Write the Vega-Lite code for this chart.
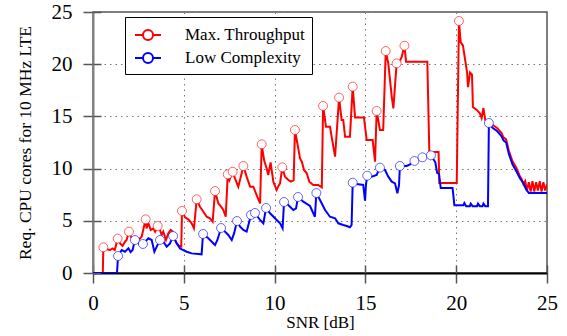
{
  "$schema": "https://vega.github.io/schema/vega-lite/v6.json",
  "width": 454,
  "height": 261,
  "autosize": {"type": "none"},
  "padding": {"left": 93, "top": 12, "right": 20, "bottom": 63},
  "background": "white",
  "config": {
    "view": {"stroke": "#555555", "strokeWidth": 1.5},
    "font": "Liberation Serif",
    "axis": {"labelFont": "Liberation Serif", "titleFont": "Liberation Serif"},
    "legend": {
      "orient": "none",
      "legendX": 32,
      "legendY": 5,
      "strokeColor": "black",
      "strokeWidth": 1,
      "fillColor": "white",
      "padding": 7,
      "labelFont": "Liberation Serif",
      "labelFontSize": 17,
      "labelColor": "black",
      "symbolType": "M-1.3,0L-0.5,0M0.5,0L1.3,0M0.5,0A0.5,0.5,0,1,1,-0.5,0A0.5,0.5,0,1,1,0.5,0",
      "symbolSize": 400,
      "symbolStrokeWidth": 2,
      "symbolOffset": 5,
      "labelOffset": 26,
      "rowPadding": 3
    }
  },
  "datasets": {
    "d": [
      {"series":"Max. Throughput","x":0,"y":0,"m":0},
      {"series":"Max. Throughput","x":0.54,"y":0,"m":0},
      {"series":"Max. Throughput","x":0.57,"y":2.46,"m":1},
      {"series":"Max. Throughput","x":0.75,"y":2.27,"m":0},
      {"series":"Max. Throughput","x":0.94,"y":2.2,"m":0},
      {"series":"Max. Throughput","x":1.08,"y":2.36,"m":0},
      {"series":"Max. Throughput","x":1.2,"y":2.2,"m":0},
      {"series":"Max. Throughput","x":1.36,"y":3.29,"m":1},
      {"series":"Max. Throughput","x":1.49,"y":2.84,"m":0},
      {"series":"Max. Throughput","x":1.63,"y":2.59,"m":0},
      {"series":"Max. Throughput","x":1.76,"y":3.0,"m":0},
      {"series":"Max. Throughput","x":1.85,"y":3.16,"m":0},
      {"series":"Max. Throughput","x":1.98,"y":3.96,"m":1},
      {"series":"Max. Throughput","x":2.13,"y":3.32,"m":0},
      {"series":"Max. Throughput","x":2.31,"y":3.48,"m":0},
      {"series":"Max. Throughput","x":2.5,"y":3.16,"m":0},
      {"series":"Max. Throughput","x":2.68,"y":3.48,"m":0},
      {"series":"Max. Throughput","x":2.9,"y":5.14,"m":1},
      {"series":"Max. Throughput","x":2.95,"y":4.28,"m":0},
      {"series":"Max. Throughput","x":3.05,"y":4.76,"m":0},
      {"series":"Max. Throughput","x":3.18,"y":4.12,"m":0},
      {"series":"Max. Throughput","x":3.32,"y":4.28,"m":0},
      {"series":"Max. Throughput","x":3.42,"y":3.96,"m":0},
      {"series":"Max. Throughput","x":3.56,"y":4.5,"m":1},
      {"series":"Max. Throughput","x":3.69,"y":4.12,"m":0},
      {"series":"Max. Throughput","x":3.78,"y":3.64,"m":0},
      {"series":"Max. Throughput","x":3.87,"y":3.96,"m":0},
      {"series":"Max. Throughput","x":4.02,"y":3.16,"m":0},
      {"series":"Max. Throughput","x":4.15,"y":3.8,"m":0},
      {"series":"Max. Throughput","x":4.28,"y":4.12,"m":0},
      {"series":"Max. Throughput","x":4.39,"y":3.96,"m":0},
      {"series":"Max. Throughput","x":4.52,"y":3.16,"m":0},
      {"series":"Max. Throughput","x":4.61,"y":2.84,"m":0},
      {"series":"Max. Throughput","x":4.75,"y":2.59,"m":0},
      {"series":"Max. Throughput","x":4.86,"y":2.52,"m":0},
      {"series":"Max. Throughput","x":4.9,"y":5.94,"m":1},
      {"series":"Max. Throughput","x":5.07,"y":5.33,"m":0},
      {"series":"Max. Throughput","x":5.25,"y":5.14,"m":0},
      {"series":"Max. Throughput","x":5.43,"y":4.76,"m":0},
      {"series":"Max. Throughput","x":5.56,"y":4.28,"m":0},
      {"series":"Max. Throughput","x":5.71,"y":7.06,"m":1},
      {"series":"Max. Throughput","x":5.89,"y":6.35,"m":0},
      {"series":"Max. Throughput","x":6.08,"y":5.87,"m":0},
      {"series":"Max. Throughput","x":6.26,"y":5.39,"m":0},
      {"series":"Max. Throughput","x":6.44,"y":5.24,"m":0},
      {"series":"Max. Throughput","x":6.59,"y":4.92,"m":0},
      {"series":"Max. Throughput","x":6.72,"y":7.85,"m":1},
      {"series":"Max. Throughput","x":6.9,"y":6.67,"m":0},
      {"series":"Max. Throughput","x":7.05,"y":6.35,"m":0},
      {"series":"Max. Throughput","x":7.18,"y":6.03,"m":0},
      {"series":"Max. Throughput","x":7.31,"y":5.39,"m":0},
      {"series":"Max. Throughput","x":7.42,"y":9.45,"m":1},
      {"series":"Max. Throughput","x":7.51,"y":8.9,"m":0},
      {"series":"Max. Throughput","x":7.69,"y":9.7,"m":1},
      {"series":"Max. Throughput","x":7.82,"y":9.07,"m":0},
      {"series":"Max. Throughput","x":8.0,"y":8.27,"m":0},
      {"series":"Max. Throughput","x":8.15,"y":9.3,"m":0},
      {"series":"Max. Throughput","x":8.28,"y":10.25,"m":1},
      {"series":"Max. Throughput","x":8.46,"y":9.23,"m":0},
      {"series":"Max. Throughput","x":8.65,"y":8.27,"m":0},
      {"series":"Max. Throughput","x":8.83,"y":8.27,"m":0},
      {"series":"Max. Throughput","x":9.01,"y":7.47,"m":0},
      {"series":"Max. Throughput","x":9.2,"y":6.67,"m":0},
      {"series":"Max. Throughput","x":9.29,"y":12.33,"m":1},
      {"series":"Max. Throughput","x":9.42,"y":10.82,"m":0},
      {"series":"Max. Throughput","x":9.56,"y":10.03,"m":0},
      {"series":"Max. Throughput","x":9.65,"y":9.39,"m":0},
      {"series":"Max. Throughput","x":9.78,"y":10.6,"m":0},
      {"series":"Max. Throughput","x":9.93,"y":8.75,"m":0},
      {"series":"Max. Throughput","x":10.11,"y":7.95,"m":0},
      {"series":"Max. Throughput","x":10.2,"y":8.3,"m":0},
      {"series":"Max. Throughput","x":10.3,"y":8.59,"m":0},
      {"series":"Max. Throughput","x":10.42,"y":10.12,"m":1},
      {"series":"Max. Throughput","x":10.57,"y":9.23,"m":0},
      {"series":"Max. Throughput","x":10.76,"y":8.91,"m":0},
      {"series":"Max. Throughput","x":10.9,"y":8.75,"m":0},
      {"series":"Max. Throughput","x":11.05,"y":8.9,"m":0},
      {"series":"Max. Throughput","x":11.12,"y":13.7,"m":1},
      {"series":"Max. Throughput","x":11.27,"y":12.26,"m":0},
      {"series":"Max. Throughput","x":11.4,"y":10.98,"m":0},
      {"series":"Max. Throughput","x":11.5,"y":10.66,"m":0},
      {"series":"Max. Throughput","x":11.62,"y":9.87,"m":0},
      {"series":"Max. Throughput","x":11.77,"y":9.55,"m":0},
      {"series":"Max. Throughput","x":11.91,"y":8.75,"m":0},
      {"series":"Max. Throughput","x":12.13,"y":8.43,"m":0},
      {"series":"Max. Throughput","x":12.4,"y":8.43,"m":0},
      {"series":"Max. Throughput","x":12.6,"y":8.2,"m":0},
      {"series":"Max. Throughput","x":12.67,"y":16.0,"m":1},
      {"series":"Max. Throughput","x":12.83,"y":14.0,"m":0},
      {"series":"Max. Throughput","x":13.05,"y":14.0,"m":0},
      {"series":"Max. Throughput","x":13.14,"y":13.06,"m":0},
      {"series":"Max. Throughput","x":13.33,"y":11.14,"m":0},
      {"series":"Max. Throughput","x":13.55,"y":16.8,"m":1},
      {"series":"Max. Throughput","x":13.69,"y":14.66,"m":0},
      {"series":"Max. Throughput","x":13.78,"y":14.66,"m":0},
      {"series":"Max. Throughput","x":13.88,"y":13.06,"m":0},
      {"series":"Max. Throughput","x":14.15,"y":13.06,"m":0},
      {"series":"Max. Throughput","x":14.3,"y":17.85,"m":1},
      {"series":"Max. Throughput","x":14.43,"y":14.9,"m":0},
      {"series":"Max. Throughput","x":14.92,"y":14.9,"m":0},
      {"series":"Max. Throughput","x":15.07,"y":12.74,"m":0},
      {"series":"Max. Throughput","x":15.4,"y":12.74,"m":0},
      {"series":"Max. Throughput","x":15.53,"y":10.66,"m":0},
      {"series":"Max. Throughput","x":15.62,"y":15.52,"m":1},
      {"series":"Max. Throughput","x":15.8,"y":13.7,"m":0},
      {"series":"Max. Throughput","x":15.98,"y":13.7,"m":0},
      {"series":"Max. Throughput","x":16.12,"y":21.26,"m":1},
      {"series":"Max. Throughput","x":16.26,"y":20.08,"m":0},
      {"series":"Max. Throughput","x":16.45,"y":16.9,"m":0},
      {"series":"Max. Throughput","x":16.54,"y":15.77,"m":0},
      {"series":"Max. Throughput","x":16.72,"y":20.08,"m":1},
      {"series":"Max. Throughput","x":16.85,"y":20.1,"m":0},
      {"series":"Max. Throughput","x":17.0,"y":20.7,"m":0},
      {"series":"Max. Throughput","x":17.15,"y":21.77,"m":1},
      {"series":"Max. Throughput","x":17.24,"y":20.24,"m":0},
      {"series":"Max. Throughput","x":18.41,"y":20.24,"m":0},
      {"series":"Max. Throughput","x":18.52,"y":11.6,"m":0},
      {"series":"Max. Throughput","x":19.03,"y":11.6,"m":0},
      {"series":"Max. Throughput","x":19.07,"y":8.62,"m":0},
      {"series":"Max. Throughput","x":20.03,"y":8.62,"m":0},
      {"series":"Max. Throughput","x":20.15,"y":24.14,"m":1},
      {"series":"Max. Throughput","x":20.25,"y":22.1,"m":0},
      {"series":"Max. Throughput","x":20.37,"y":21.8,"m":0},
      {"series":"Max. Throughput","x":20.6,"y":19.2,"m":0},
      {"series":"Max. Throughput","x":20.65,"y":17.8,"m":0},
      {"series":"Max. Throughput","x":20.76,"y":19.2,"m":0},
      {"series":"Max. Throughput","x":20.87,"y":19.0,"m":0},
      {"series":"Max. Throughput","x":20.92,"y":15.9,"m":0},
      {"series":"Max. Throughput","x":21.15,"y":15.6,"m":0},
      {"series":"Max. Throughput","x":21.3,"y":15.3,"m":0},
      {"series":"Max. Throughput","x":21.4,"y":14.85,"m":0},
      {"series":"Max. Throughput","x":21.5,"y":15.8,"m":0},
      {"series":"Max. Throughput","x":21.6,"y":14.65,"m":0},
      {"series":"Max. Throughput","x":21.75,"y":14.4,"m":0},
      {"series":"Max. Throughput","x":22.0,"y":14.2,"m":0},
      {"series":"Max. Throughput","x":22.25,"y":13.9,"m":0},
      {"series":"Max. Throughput","x":22.5,"y":13.4,"m":0},
      {"series":"Max. Throughput","x":22.6,"y":13.0,"m":0},
      {"series":"Max. Throughput","x":22.75,"y":12.8,"m":0},
      {"series":"Max. Throughput","x":22.9,"y":11.7,"m":0},
      {"series":"Max. Throughput","x":23.1,"y":10.7,"m":0},
      {"series":"Max. Throughput","x":23.3,"y":10.1,"m":0},
      {"series":"Max. Throughput","x":23.5,"y":9.3,"m":0},
      {"series":"Max. Throughput","x":23.6,"y":9.0,"m":0},
      {"series":"Max. Throughput","x":23.7,"y":8.5,"m":0},
      {"series":"Max. Throughput","x":23.8,"y":8.8,"m":0},
      {"series":"Max. Throughput","x":23.9,"y":7.9,"m":0},
      {"series":"Max. Throughput","x":24.0,"y":8.7,"m":0},
      {"series":"Max. Throughput","x":24.1,"y":7.8,"m":0},
      {"series":"Max. Throughput","x":24.2,"y":8.8,"m":0},
      {"series":"Max. Throughput","x":24.3,"y":7.8,"m":0},
      {"series":"Max. Throughput","x":24.4,"y":8.7,"m":0},
      {"series":"Max. Throughput","x":24.5,"y":7.9,"m":0},
      {"series":"Max. Throughput","x":24.6,"y":8.8,"m":0},
      {"series":"Max. Throughput","x":24.7,"y":7.8,"m":0},
      {"series":"Max. Throughput","x":24.8,"y":8.7,"m":0},
      {"series":"Max. Throughput","x":24.9,"y":7.9,"m":0},
      {"series":"Max. Throughput","x":25.0,"y":8.5,"m":0},
      {"series":"Low Complexity","x":0,"y":0,"m":0},
      {"series":"Low Complexity","x":1.32,"y":0,"m":0},
      {"series":"Low Complexity","x":1.38,"y":1.63,"m":1},
      {"series":"Low Complexity","x":1.58,"y":2.2,"m":0},
      {"series":"Low Complexity","x":1.76,"y":2.04,"m":0},
      {"series":"Low Complexity","x":1.95,"y":2.36,"m":0},
      {"series":"Low Complexity","x":2.07,"y":2.0,"m":0},
      {"series":"Low Complexity","x":2.18,"y":2.2,"m":0},
      {"series":"Low Complexity","x":2.31,"y":3.16,"m":1},
      {"series":"Low Complexity","x":2.5,"y":2.84,"m":0},
      {"series":"Low Complexity","x":2.68,"y":2.52,"m":0},
      {"series":"Low Complexity","x":2.75,"y":2.78,"m":1},
      {"series":"Low Complexity","x":3.05,"y":3.32,"m":0},
      {"series":"Low Complexity","x":3.23,"y":3.16,"m":0},
      {"series":"Low Complexity","x":3.38,"y":2.04,"m":0},
      {"series":"Low Complexity","x":3.51,"y":2.52,"m":0},
      {"series":"Low Complexity","x":3.69,"y":3.16,"m":1},
      {"series":"Low Complexity","x":3.87,"y":3.0,"m":0},
      {"series":"Low Complexity","x":4.06,"y":2.52,"m":0},
      {"series":"Low Complexity","x":4.24,"y":2.84,"m":0},
      {"series":"Low Complexity","x":4.41,"y":3.54,"m":1},
      {"series":"Low Complexity","x":4.61,"y":2.84,"m":0},
      {"series":"Low Complexity","x":4.79,"y":2.36,"m":0},
      {"series":"Low Complexity","x":4.97,"y":2.2,"m":0},
      {"series":"Low Complexity","x":5.16,"y":2.04,"m":0},
      {"series":"Low Complexity","x":5.43,"y":1.88,"m":0},
      {"series":"Low Complexity","x":5.98,"y":1.79,"m":0},
      {"series":"Low Complexity","x":6.06,"y":3.74,"m":1},
      {"series":"Low Complexity","x":6.35,"y":3.32,"m":0},
      {"series":"Low Complexity","x":6.54,"y":3.0,"m":0},
      {"series":"Low Complexity","x":6.72,"y":2.68,"m":0},
      {"series":"Low Complexity","x":6.85,"y":3.16,"m":0},
      {"series":"Low Complexity","x":7.05,"y":4.31,"m":1},
      {"series":"Low Complexity","x":7.27,"y":3.96,"m":0},
      {"series":"Low Complexity","x":7.45,"y":3.64,"m":0},
      {"series":"Low Complexity","x":7.64,"y":3.16,"m":0},
      {"series":"Low Complexity","x":7.78,"y":3.86,"m":0},
      {"series":"Low Complexity","x":7.93,"y":4.98,"m":1},
      {"series":"Low Complexity","x":8.1,"y":4.44,"m":0},
      {"series":"Low Complexity","x":8.28,"y":4.12,"m":0},
      {"series":"Low Complexity","x":8.46,"y":3.96,"m":0},
      {"series":"Low Complexity","x":8.7,"y":5.56,"m":1},
      {"series":"Low Complexity","x":8.92,"y":5.75,"m":1},
      {"series":"Low Complexity","x":9.2,"y":5.08,"m":0},
      {"series":"Low Complexity","x":9.38,"y":4.76,"m":0},
      {"series":"Low Complexity","x":9.53,"y":6.23,"m":1},
      {"series":"Low Complexity","x":9.75,"y":5.72,"m":0},
      {"series":"Low Complexity","x":10.02,"y":5.24,"m":0},
      {"series":"Low Complexity","x":10.3,"y":4.76,"m":0},
      {"series":"Low Complexity","x":10.44,"y":4.28,"m":0},
      {"series":"Low Complexity","x":10.52,"y":6.8,"m":1},
      {"series":"Low Complexity","x":10.75,"y":6.51,"m":0},
      {"series":"Low Complexity","x":11.03,"y":6.03,"m":0},
      {"series":"Low Complexity","x":11.18,"y":6.19,"m":0},
      {"series":"Low Complexity","x":11.29,"y":7.28,"m":1},
      {"series":"Low Complexity","x":11.58,"y":6.83,"m":0},
      {"series":"Low Complexity","x":11.95,"y":6.42,"m":0},
      {"series":"Low Complexity","x":12.22,"y":5.39,"m":0},
      {"series":"Low Complexity","x":12.3,"y":7.66,"m":1},
      {"series":"Low Complexity","x":12.5,"y":6.99,"m":0},
      {"series":"Low Complexity","x":12.78,"y":6.03,"m":0},
      {"series":"Low Complexity","x":13.05,"y":5.39,"m":0},
      {"series":"Low Complexity","x":13.33,"y":5.24,"m":0},
      {"series":"Low Complexity","x":13.51,"y":4.76,"m":0},
      {"series":"Low Complexity","x":13.78,"y":4.6,"m":0},
      {"series":"Low Complexity","x":13.97,"y":4.5,"m":0},
      {"series":"Low Complexity","x":14.15,"y":4.38,"m":0},
      {"series":"Low Complexity","x":14.24,"y":4.6,"m":0},
      {"series":"Low Complexity","x":14.3,"y":8.65,"m":1},
      {"series":"Low Complexity","x":14.52,"y":8.52,"m":0},
      {"series":"Low Complexity","x":14.88,"y":8.43,"m":0},
      {"series":"Low Complexity","x":14.98,"y":6.93,"m":0},
      {"series":"Low Complexity","x":15.03,"y":8.43,"m":0},
      {"series":"Low Complexity","x":15.1,"y":9.32,"m":1},
      {"series":"Low Complexity","x":15.35,"y":9.23,"m":0},
      {"series":"Low Complexity","x":15.62,"y":9.39,"m":0},
      {"series":"Low Complexity","x":15.8,"y":10.09,"m":1},
      {"series":"Low Complexity","x":16.08,"y":9.87,"m":0},
      {"series":"Low Complexity","x":16.26,"y":9.23,"m":0},
      {"series":"Low Complexity","x":16.45,"y":8.75,"m":0},
      {"series":"Low Complexity","x":16.63,"y":8.59,"m":0},
      {"series":"Low Complexity","x":16.76,"y":7.63,"m":0},
      {"series":"Low Complexity","x":16.85,"y":8.4,"m":0},
      {"series":"Low Complexity","x":16.9,"y":10.25,"m":1},
      {"series":"Low Complexity","x":17.27,"y":10.25,"m":0},
      {"series":"Low Complexity","x":17.46,"y":10.41,"m":0},
      {"series":"Low Complexity","x":17.7,"y":10.73,"m":1},
      {"series":"Low Complexity","x":18.14,"y":11.08,"m":1},
      {"series":"Low Complexity","x":18.61,"y":11.27,"m":1},
      {"series":"Low Complexity","x":18.85,"y":10.6,"m":0},
      {"series":"Low Complexity","x":18.95,"y":9.6,"m":0},
      {"series":"Low Complexity","x":19.05,"y":9.5,"m":0},
      {"series":"Low Complexity","x":19.15,"y":8.14,"m":0},
      {"series":"Low Complexity","x":19.8,"y":8.14,"m":0},
      {"series":"Low Complexity","x":19.9,"y":6.5,"m":0},
      {"series":"Low Complexity","x":20.4,"y":6.5,"m":0},
      {"series":"Low Complexity","x":20.45,"y":6.7,"m":0},
      {"series":"Low Complexity","x":20.55,"y":6.4,"m":0},
      {"series":"Low Complexity","x":20.75,"y":6.4,"m":0},
      {"series":"Low Complexity","x":20.8,"y":6.65,"m":0},
      {"series":"Low Complexity","x":20.9,"y":6.4,"m":0},
      {"series":"Low Complexity","x":21.15,"y":6.4,"m":0},
      {"series":"Low Complexity","x":21.2,"y":6.65,"m":0},
      {"series":"Low Complexity","x":21.3,"y":6.4,"m":0},
      {"series":"Low Complexity","x":21.45,"y":6.4,"m":0},
      {"series":"Low Complexity","x":21.5,"y":6.65,"m":0},
      {"series":"Low Complexity","x":21.6,"y":6.4,"m":0},
      {"series":"Low Complexity","x":21.75,"y":6.4,"m":0},
      {"series":"Low Complexity","x":21.8,"y":14.37,"m":1},
      {"series":"Low Complexity","x":22.0,"y":13.9,"m":0},
      {"series":"Low Complexity","x":22.25,"y":13.6,"m":0},
      {"series":"Low Complexity","x":22.5,"y":13.1,"m":0},
      {"series":"Low Complexity","x":22.6,"y":12.7,"m":0},
      {"series":"Low Complexity","x":22.75,"y":12.5,"m":0},
      {"series":"Low Complexity","x":22.9,"y":11.4,"m":0},
      {"series":"Low Complexity","x":23.1,"y":10.4,"m":0},
      {"series":"Low Complexity","x":23.3,"y":9.8,"m":0},
      {"series":"Low Complexity","x":23.5,"y":9.1,"m":0},
      {"series":"Low Complexity","x":23.7,"y":8.6,"m":0},
      {"series":"Low Complexity","x":23.85,"y":8.0,"m":0},
      {"series":"Low Complexity","x":24.0,"y":7.66,"m":0},
      {"series":"Low Complexity","x":25.0,"y":7.66,"m":0}
    ]
  },
  "data": {"name": "d"},
  "layer": [
    {
      "mark": {"type": "line", "strokeWidth": 2, "clip": true},
      "encoding": {
        "x": {
          "field": "x", "type": "quantitative",
          "scale": {"domain": [0, 25], "nice": false, "zero": false},
          "axis": {
            "values": [0, 5, 10, 15, 20, 25],
            "grid": true, "gridDash": [1.5, 4], "gridColor": "#777777", "gridWidth": 1,
            "domainColor": "black", "domainWidth": 2,
            "tickColor": "#555555", "tickWidth": 1.5, "tickSize": 10,
            "labelPadding": 9, "labelFlush": false, "labelOverlap": false,
            "labelFont": "Liberation Serif", "labelFontSize": 21, "labelColor": "black",
            "title": "SNR [dB]", "titleFont": "Liberation Serif", "titleFontSize": 17,
            "titleFontWeight": "normal", "titleColor": "black", "titlePadding": 1
          }
        },
        "y": {
          "field": "y", "type": "quantitative",
          "scale": {"domain": [0, 25], "nice": false},
          "axis": {
            "values": [0, 5, 10, 15, 20, 25],
            "grid": true, "gridDash": [1.5, 4], "gridColor": "#777777", "gridWidth": 1,
            "domainColor": "#808080", "domainWidth": 2,
            "tickColor": "#555555", "tickWidth": 1.5, "tickSize": 10,
            "labelPadding": 11, "labelFlush": false, "labelOverlap": false,
            "labelFont": "Liberation Serif", "labelFontSize": 21, "labelColor": "black",
            "title": "Req. CPU cores for 10 MHz LTE", "titleFont": "Liberation Serif",
            "titleFontSize": 17.5, "titleFontWeight": "normal", "titleColor": "black",
            "titlePadding": 17
          }
        },
        "color": {
          "field": "series", "type": "nominal",
          "scale": {"domain": ["Max. Throughput", "Low Complexity"], "range": ["#ff0000", "#0000ff"]},
          "legend": {"title": null, "labelFont": "Liberation Serif", "labelFontSize": 17}
        }
      }
    },
    {
      "transform": [{"filter": "datum.m == 1"}],
      "mark": {"type": "point", "shape": "circle", "filled": false, "fill": "white", "size": 80, "strokeWidth": 1, "strokeOpacity": 0.6, "opacity": 1},
      "encoding": {
        "x": {
          "field": "x", "type": "quantitative",
          "axis": {"orient": "bottom", "values": [0, 5, 10, 15, 20, 25], "labels": false, "domain": false, "grid": false, "tickSize": -8, "tickColor": "#555555", "tickWidth": 1.5, "title": null, "labelFont": "Liberation Serif"}
        },
        "y": {
          "field": "y", "type": "quantitative",
          "axis": {"orient": "left", "values": [0, 5, 10, 15, 20, 25], "labels": false, "domain": false, "grid": false, "tickSize": -8, "tickColor": "#555555", "tickWidth": 1.5, "title": null, "labelFont": "Liberation Serif"}
        },
        "color": {"field": "series", "type": "nominal"}
      }
    }
  ],
  "resolve": {"axis": {"x": "independent", "y": "independent"}}
}
